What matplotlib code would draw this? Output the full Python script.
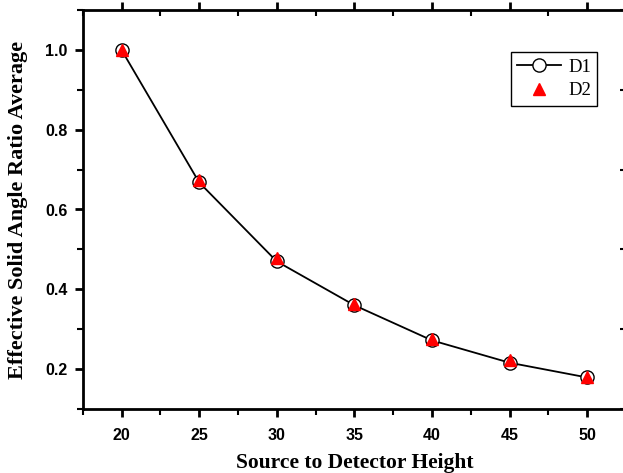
import matplotlib
matplotlib.use("Agg")
import matplotlib.pyplot as plt
from matplotlib.ticker import FixedLocator

heights = [20, 25, 30, 35, 40, 45, 50]
d1 = [1.0, 0.668, 0.470, 0.360, 0.272, 0.216, 0.179]
d2 = [1.0, 0.673, 0.478, 0.363, 0.275, 0.222, 0.181]
xticks = [20, 25, 30, 35, 40, 45, 50]
xminor = [17.5, 22.5, 27.5, 32.5, 37.5, 42.5, 47.5, 52.5]
yticks = [0.2, 0.4, 0.6, 0.8, 1.0]
yminor = [0.1, 0.3, 0.5, 0.7, 0.9, 1.1]

W, H = 623, 473
fig = plt.figure(figsize=(W / 100, H / 100), dpi=100)
L, R, T, B = 82.7, 626, 10, 409
ax = fig.add_axes([L / W, 1 - B / H, (R - L) / W, (B - T) / H])

ax.plot(heights, d1, color="black", lw=1.3, marker="o", ms=9.5,
        mfc="white", mec="black", mew=1.0, label="D1", zorder=3)
ax.plot(heights, d2, ls="none", marker="^", ms=8.5, mfc="red", mec="red",
        label="D2", zorder=4)

ax.set_xlim(17.5, 52.5)
ax.set_ylim(0.1, 1.1)
ax.xaxis.set_major_locator(FixedLocator(xticks))
ax.xaxis.set_minor_locator(FixedLocator(xminor))
ax.yaxis.set_major_locator(FixedLocator(yticks))
ax.yaxis.set_minor_locator(FixedLocator(yminor))

for s in ax.spines.values():
    s.set_linewidth(2)

ax.tick_params(axis="both", which="major", direction="out", length=6, width=2,
               labelsize=11.5)
ax.tick_params(axis="both", which="minor", direction="out", length=4, width=1.5)
ax.tick_params(top=True, right=True, which="both")
fig.canvas.draw()
for t in ax.xaxis.get_major_ticks() + ax.xaxis.get_minor_ticks():
    t.tick2line.set_marker(3)
for t in ax.yaxis.get_major_ticks() + ax.yaxis.get_minor_ticks():
    t.tick2line.set_marker(0)

for lab in ax.get_xticklabels() + ax.get_yticklabels():
    lab.set_fontfamily("Liberation Sans")
    lab.set_fontweight("bold")
ax.tick_params(axis="x", pad=8)
ax.tick_params(axis="y", pad=5)

ax.set_xlabel("Source to Detector Height", fontfamily="Liberation Serif",
              fontweight="bold", fontsize=15.5, labelpad=7)
ax.set_ylabel("Effective Solid Angle Ratio Average", fontfamily="Liberation Serif",
              fontweight="bold", fontsize=16, labelpad=12)

leg = ax.legend(loc="upper left", bbox_to_anchor=(0.788, 0.895), fancybox=False,
                edgecolor="black", framealpha=1, prop={"family": "Liberation Serif", "size": 13.5},
                handlelength=2.3, borderpad=0.35, labelspacing=0.35, handletextpad=0.4,
                borderaxespad=0)
leg.get_frame().set_linewidth(1.0)

fig.savefig("out.png", dpi=100)
